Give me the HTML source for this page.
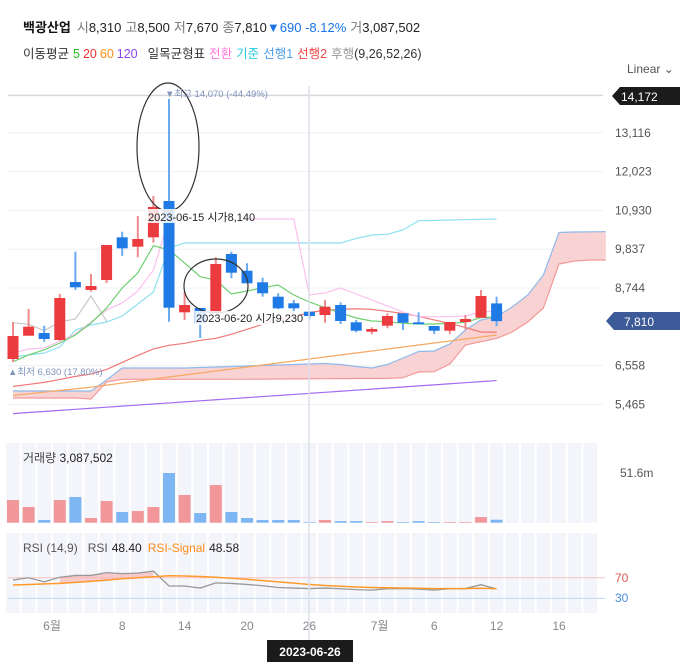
<!DOCTYPE html>
<html><head><meta charset="utf-8"><style>
body{margin:0;background:#fff;font-family:"Liberation Sans","Noto Sans CJK KR",sans-serif;}
svg text{font-family:"Liberation Sans","Noto Sans CJK KR",sans-serif;}
</style></head><body>
<svg id="c" width="680" height="662" viewBox="0 0 680 662" xmlns="http://www.w3.org/2000/svg">
<g>
<text x="23" y="32" font-size="13"><tspan font-weight="bold" fill="#111">백광산업</tspan><tspan fill="#777" dx="6">시</tspan><tspan fill="#222">8,310</tspan><tspan fill="#777" dx="4">고</tspan><tspan fill="#222">8,500</tspan><tspan fill="#777" dx="4">저</tspan><tspan fill="#222">7,670</tspan><tspan fill="#777" dx="4">종</tspan><tspan fill="#222">7,810</tspan><tspan fill="#1a73e8">▼690 -8.12%</tspan><tspan fill="#777" dx="4">거</tspan><tspan fill="#222">3,087,502</tspan></text>
<text x="23" y="58" font-size="12.5"><tspan fill="#333">이동평균</tspan><tspan fill="#22bb22" dx="4">5</tspan><tspan fill="#ee3333" dx="3">20</tspan><tspan fill="#ff8c1a" dx="3">60</tspan><tspan fill="#8844ee" dx="3">120</tspan><tspan fill="#333" dx="10">일목균형표</tspan><tspan fill="#ff77dd" dx="4">전환</tspan><tspan fill="#22ccdd" dx="4">기준</tspan><tspan fill="#4a9be8" dx="4">선행1</tspan><tspan fill="#ee4444" dx="4">선행2</tspan><tspan fill="#999" dx="4">후행</tspan><tspan fill="#333">(9,26,52,26)</tspan></text>
<text x="627" y="73" font-size="12" fill="#555">Linear ⌄</text>
</g>
<g id="grid"></g>
<g id="cloud"></g>
<g id="lines"></g>
<g id="candles"></g>
<g id="vol"></g>
<g id="rsi"></g>
<g id="axis"></g>
<line x1="309" y1="86" x2="309" y2="640" stroke="#dde0ea" stroke-width="1.5"/>
<g>
<ellipse cx="168" cy="147" rx="31" ry="64" fill="none" stroke="#333" stroke-width="1.2"/>
<rect x="147" y="209" width="104" height="14" fill="#fff" opacity="0.85"/>
<text x="148" y="221" font-size="11" fill="#222">2023-06-15 시가8,140</text>
<ellipse cx="216" cy="286" rx="32" ry="27" fill="none" stroke="#333" stroke-width="1.2"/>
<rect x="195" y="311" width="104" height="14" fill="#fff" opacity="0.85"/>
<text x="196" y="322" font-size="11" fill="#222">2023-06-20 시가9,230</text>
<text x="165" y="97" font-size="9.5" fill="#7f93bd">▼최고 14,070 (-44.49%)</text>
<text x="8" y="375" font-size="9.5" fill="#7f93bd">▲최저 6,630 (17.80%)</text>
</g>
<g>
<path d="M612 96 L620 87 L680 87 L680 105 L620 105 Z" fill="#1b1b1b"/>
<text x="621" y="101" font-size="12" fill="#fff">14,172</text>
<path d="M606 321 L614 312 L680 312 L680 330 L614 330 Z" fill="#3d5a99"/>
<text x="624" y="326" font-size="12" fill="#fff">7,810</text>
</g>
<text x="23" y="462" font-size="12" fill="#222"><tspan fill="#444">거래량</tspan> 3,087,502</text>
<text x="620" y="477" font-size="12" fill="#555">51.6m</text>
<text x="23" y="552" font-size="12"><tspan fill="#555">RSI (14,9)</tspan><tspan fill="#555" dx="10">RSI</tspan><tspan fill="#222" dx="4">48.40</tspan><tspan fill="#ff8c1a" dx="6">RSI-Signal</tspan><tspan fill="#222" dx="4">48.58</tspan></text>
<text x="615" y="582" font-size="12" fill="#e05555">70</text>
<text x="615" y="602" font-size="12" fill="#4a90e2">30</text>
<rect x="267" y="640" width="86" height="22" fill="#1b1b1b"/>
<text x="310" y="656" font-size="12" font-weight="bold" fill="#fff" text-anchor="middle">2023-06-26</text>
</svg>
<script>
const opens=[6744,7400,7476,7279,8913,8688,8969,10172,9907,10172,11195,8059,8181,8048,9702,9231,8905,8499,8313,8076,7983,8265,7778,7513,7682,8031,7778,7674,7541,7786,7907,8310];
const highs=[7786,8152,7682,8575,9767,9138,9955,10330,10772,11336,14070,8640,8181,9609,9767,9440,9034,8595,8406,8076,8406,8341,7843,7637,8031,8031,8059,7674,7786,7983,8688,8500];
const lows=[6660,7400,7231,7260,8688,8640,8885,9645,9609,10020,7795,7843,7336,8048,9017,8876,8499,8150,8076,7862,7767,7730,7496,7440,7609,7561,7722,7448,7448,7581,7907,7670];
const closes=[7392,7654,7307,8462,8764,8800,9955,9862,10124,11026,8189,8265,7750,9420,9175,8876,8595,8172,8172,7955,8217,7814,7541,7589,7955,7767,7722,7541,7786,7871,8519,7810];
const volumes=[23.7,16.4,2.8,23.7,26.9,4.9,22.7,11.2,12.2,16.4,52,29,10.1,39.4,11.2,4.9,2.8,2.8,2.8,0.7,2.8,1.7,1.7,0.7,1.7,0.7,1.7,0.7,0.7,0.7,5.9,3.1];
const ma5=[6668,6857,7001,7195,7420,7758,8181,8744,9167,9936,9815,9449,9062,8969,8575,8659,8752,8829,8547,8350,8189,8040,7899,7814,7795,7750,7730,7730,7750,7778,7907,7936];
const ma20=[5972,6028,6085,6169,6254,6319,6451,6648,6845,7028,7129,7185,7270,7326,7439,7580,7721,7862,7932,8056,8113,8141,8160,8141,8085,8028,7944,7845,7746,7634,7502,7502];
const ma60=[5718,5764,5810,5857,5903,5950,6008,6066,6123,6181,6237,6293,6350,6406,6462,6519,6575,6632,6688,6744,6801,6857,6913,6970,7026,7082,7138,7195,7251,7307,7364,7420];
const ma120=[5206,5236,5266,5296,5326,5356,5386,5416,5446,5476,5506,5536,5566,5596,5626,5656,5686,5716,5746,5776,5806,5836,5866,5896,5926,5956,5986,6016,6046,6076,6106,6136];
const tenkan=[6913,7026,7054,7251,7448,7786,8124,8322,8659,9251,10688,10688,10688,10688,10688,10688,10688,10688,10688,8547,8603,8744,8575,8406,8237,8068,7936,7936,7936,7955,8068,8096];
const kijun=[6800,6857,6913,7082,7561,7702,7786,7955,8294,8631,9870,10012,10012,10012,10012,10012,10012,10012,10012,10012,10012,10012,10139,10237,10257,10378,10640,10646,10660,10668,10679,10688];
const spanA=[5843,5843,5843,5843,5843,5843,6152,6491,6491,6491,6491,6491,6505,6519,6533,6547,6561,6575,6589,6603,6617,6589,6533,6491,6589,6772,6955,6970,7167,7561,7843,7941,8209,8547,9110,10308,10322,10327,10330];
const spanB=[5645,5645,5645,5645,5645,5617,6096,6172,6172,6172,6172,6172,6172,6172,6172,6175,6178,6181,6184,6187,6190,6192,6194,6195,6195,6217,6378,6386,6603,7138,7231,7322,7504,7786,8181,9420,9505,9533,9533];
const rsi=[65.5,70,62,71,74.5,74.5,80,78,79,83,54,54,50,60,59,57,54.5,51,50,49,50,48.7,47,46,48.7,49,48,46,48.7,49,56.5,48.4];
const rsiSignal=[56,57,58,59,61,63,65.5,68,70,72,74,73.5,72.5,71,69,67,64.5,62,59.5,57,55,53.5,52,51,50.5,50,49.5,49,48.8,48.8,49.5,48.58];
const priceTicks=[14172,13116,12023,10930,9837,8744,6558,5465];
const priceTickLabels=["14,172","13,116","12,023","10,930","9,837","8,744","6,558","5,465"];
const dateTickIdx=[2.5,7,11,15,19,23.5,27,31,35];
const dateTickLabels=["6월","8","14","20","26","7월","6","12","16"];
const chikouShift=25;

const NS="http://www.w3.org/2000/svg";
function X(i){return 13+15.6*i;}
function Y(p){return 288-(p-8744)/1093*38.8;}
function VY(v){return 522.7-v/52*49.7;}
function RY(v){return 613.8-v*0.515;}
function mk(tag,attrs,parent){const e=document.createElementNS(NS,tag);for(const k in attrs)e.setAttribute(k,attrs[k]);parent.appendChild(e);return e;}
const G=id=>document.getElementById(id);

const gridG=G('grid');
priceTicks.forEach((t,k)=>{const l=mk('line',{x1:8,x2:603,y1:Y(t),y2:Y(t),stroke:k===0?'#d5d8de':'#eef0f3','stroke-width':k===0?1.5:1},gridG);

});
for(let i=0;i<38;i++){
 const a=mk('rect',{x:X(i)-6.8,y:443,width:13.6,height:80,fill:'#f4f5fa'},gridG);
 
 
 const b=mk('rect',{x:X(i)-6.8,y:533,width:13.6,height:80,fill:'#f4f5fa'},gridG);
 
 
}
const cloudG=G('cloud');
let cloudTop='',cloudBot='';
spanA.forEach((v,i)=>{cloudTop+=(i?'L':'M')+X(i)+' '+Y(v);});
for(let i=spanB.length-1;i>=0;i--){cloudBot+='L'+X(i)+' '+Y(spanB[i]);}
const cf=mk('path',{d:cloudTop+cloudBot+'Z',fill:'#f8c8c8',opacity:0.8},cloudG);


function drawLine(arr,color,name,parent,yf,off,w){let d='';arr.forEach((v,i)=>{d+=(i?'L':'M')+X(i+(off||0))+' '+yf(v);});const p=mk('path',{d:d,fill:'none',stroke:color,'stroke-width':w||1.2},parent);

return p;}
const linesG=G('lines');
drawLine(spanA,'#8fb8ea','senkou-span-a',linesG,Y);
drawLine(spanB,'#f29a9a','senkou-span-b',linesG,Y);
drawLine(ma120,'#a46cf0','ma120-line',linesG,Y);
drawLine(ma60,'#f7a860','ma60-line',linesG,Y);
drawLine(ma20,'#f07878','ma20-line',linesG,Y);
drawLine(kijun,'#8fe0f0','kijun-line',linesG,Y);
drawLine(tenkan,'#fbc0ee','tenkan-line',linesG,Y);
drawLine(closes.slice(chikouShift),'#c8c8c8','chikou-line',linesG,Y);
drawLine(ma5,'#6fcf6f','ma5-line',linesG,Y);
const candlesG=G('candles');
opens.forEach((o,i)=>{const c=closes[i];const up=c>=o;const col=up?'#ec3b3f':'#1f7ae6';
 const w=mk('line',{x1:X(i),x2:X(i),y1:Y(highs[i]),y2:Y(lows[i]),stroke:up?'#f08a8c':'#6aaaf0','stroke-width':2},candlesG);
 
 
 const yt=Y(Math.max(o,c)),yb=Y(Math.min(o,c));
 const b=mk('rect',{x:X(i)-5.5,y:yt,width:11,height:Math.max(2,yb-yt),fill:col},candlesG);
 
 
});
const volG=G('vol');
volumes.forEach((v,i)=>{const up=closes[i]>=opens[i];
 const r=mk('rect',{x:X(i)-6,y:VY(v),width:12,height:522.7-VY(v),fill:up?'#f19799':'#7db6f3'},volG);
 
 
});
const rsiG=G('rsi');
const l70=mk('line',{x1:8,x2:605,y1:RY(70),y2:RY(70),stroke:'#f5c4c4'},rsiG);


const l30=mk('line',{x1:8,x2:605,y1:RY(30),y2:RY(30),stroke:'#bcd6f5'},rsiG);


let fd='';for(let i=3;i<=9;i++)fd+=(i>3?'L':'M')+X(i)+' '+RY(rsi[i]);for(let i=9;i>=3;i--)fd+='L'+X(i)+' '+RY(rsiSignal[i]);
const rf=mk('path',{d:fd+'Z',fill:'#f6b6b6',opacity:0.7},rsiG);


drawLine(rsi,'#999','rsi-line',rsiG,RY,0,1.3);
drawLine(rsiSignal,'#ff9a2a','rsi-signal-line',rsiG,RY,0,1.5);
const axisG=G('axis');
priceTicks.forEach((t,k)=>{const tx=mk('text',{x:615,y:Y(t)+4,'font-size':12,fill:'#555'},axisG);tx.textContent=priceTickLabels[k];
 if(k===0)tx.setAttribute('opacity','0');
 
 });
dateTickIdx.forEach((d,k)=>{const tx=mk('text',{x:X(d),y:630,'font-size':12,fill:'#888','text-anchor':'middle'},axisG);tx.textContent=dateTickLabels[k];
 
 });
</script>
</body></html>
